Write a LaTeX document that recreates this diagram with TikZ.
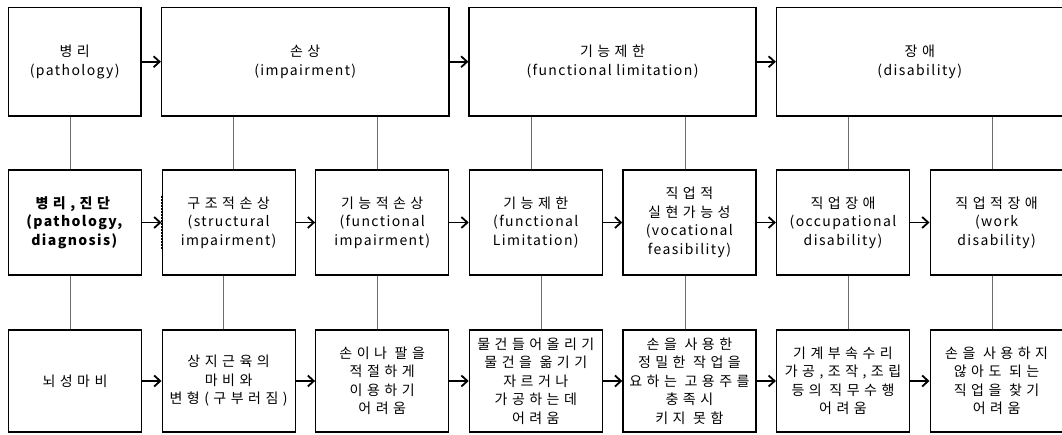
\documentclass[tikz,border=0pt]{standalone}
\usepackage{fontspec}
\setmainfont{Noto Sans CJK KR}[LetterSpace=10]
\newfontfamily\kofont{Noto Sans CJK KR}[LetterSpace=32]
\newcommand{\ko}[1]{{\kofont #1}}
\usetikzlibrary{arrows.meta}
\begin{document}
\begin{tikzpicture}[x=1pt,y=-1pt,
  box/.style={draw=black, line width=1.2pt, minimum width=133pt, inner sep=0pt, align=center, font=\fontsize{14}{18.5}\selectfont},
  toprow/.style={box, minimum height=108.5pt},
  midrow/.style={box, minimum height=105pt},
  botrow/.style={box, minimum height=102pt},
  flow/.style={line width=1.8pt, -{Straight Barb[length=6pt,width=11pt]}},
  link/.style={draw=gray!85!black, line width=1pt}]
\useasboundingbox (0,0) rectangle (1062,435);
% top row
\node[toprow, minimum width=132.5pt] (t1) at (74.75,61.75) {\ko{병리}\\(pathology)};
\node[toprow, minimum width=287.5pt] (t2) at (305.25,61.75) {\ko{손상}\\(impairment)};
\node[toprow, minimum width=287pt] (t3) at (612.5,61.75) {\ko{기능제한}\\(functional limitation)};
\node[toprow, minimum width=286.5pt] (t4) at (919.75,61.75) {\ko{장애}\\(disability)};
% middle row
\node[midrow] (m1) at (75,222.5) {\textbf{\ko{병리,진단}}\\\textbf{(pathology,}\\\textbf{diagnosis)}};
\node[midrow] (m2) at (228.6,222.5) {\ko{구조적손상}\\(structural\\impairment)};
\node[midrow] (m3) at (382.2,222.5) {\ko{기능적손상}\\(functional\\impairment)};
\node[midrow] (m4) at (535.8,222.5) {\ko{기능제한}\\(functional\\Limitation)};
\node[midrow] (m5) at (689.4,222.5) {\ko{직업적}\\\ko{실현가능성}\\(vocational\\feasibility)};
\node[midrow] (m6) at (843,222.5) {\ko{직업장애}\\(occupational\\disability)};
\node[midrow] (m7) at (996.6,222.5) {\ko{직업적장애}\\(work\\disability)};
% bottom row
\node[botrow] (b1) at (75,381) {\ko{뇌성마비}};
\node[botrow] (b2) at (228.6,381) {\ko{상지근육의}\\\ko{마비와}\\\ko{변형(구부러짐)}};
\node[botrow] (b3) at (382.2,381) {\ko{손이나 팔을}\\\ko{적절하게}\\\ko{이용하기}\\\ko{어려움}};
\node[botrow] (b4) at (535.8,381) {\ko{물건들어올리기}\\\ko{물건을 옮기기}\\\ko{자르거나}\\\ko{가공하는데}\\\ko{어려움}};
\node[botrow] (b5) at (689.4,381) {\ko{손을 사용한}\\\ko{정밀한 작업을}\\\ko{요하는 고용주를}\\\ko{충족시}\\\ko{키지 못함}};
\node[botrow] (b6) at (843,381) {\ko{기계부속수리}\\\ko{가공,조작,조립}\\\ko{등의 직무수행}\\\ko{어려움}};
\node[botrow] (b7) at (996.6,381) {\ko{손을 사용하지}\\\ko{않아도 되는}\\\ko{직업을 찾기}\\\ko{어려움}};
% flow arrows
\draw[flow] (t1) -- (t2);
\draw[flow] (t2) -- (t3);
\draw[flow] (t3) -- (t4);
\foreach \a/\b in {1/2,2/3,3/4,4/5,5/6,6/7}{
  \draw[flow] (m\a) -- (m\b);
  \draw[flow] (b\a) -- (b\b);
}
% vertical links top-middle
\draw[link] ([xshift=-4.7pt]m1.north) -- ([xshift=-4.7pt]m1.north |- t1.south);
\draw[link] ([xshift=4.4pt]m2.north) -- ([xshift=4.4pt]m2.north |- t2.south);
\draw[link] ([xshift=-5pt]m3.north) -- ([xshift=-5pt]m3.north |- t2.south);
\draw[link] ([xshift=-4.8pt]m4.north) -- ([xshift=-4.8pt]m4.north |- t3.south);
\draw[link] ([xshift=-4.4pt]m5.north) -- ([xshift=-4.4pt]m5.north |- t3.south);
\draw[link] ([xshift=5.6pt]m6.north) -- ([xshift=5.6pt]m6.north |- t4.south);
\draw[link] ([xshift=-4.6pt]m7.north) -- ([xshift=-4.6pt]m7.north |- t4.south);
% vertical links middle-bottom
\draw[link] ([xshift=-4.7pt]m1.south) -- ([xshift=-4.7pt]b1.north);
\draw[link] ([xshift=-5pt]m2.south) -- ([xshift=-5pt]b2.north);
\draw[link] ([xshift=-5pt]m3.south) -- ([xshift=-5pt]b3.north);
\draw[link] ([xshift=5.2pt]m4.south) -- ([xshift=5.2pt]b4.north);
\draw[link] ([xshift=-4.4pt]m5.south) -- ([xshift=-4.4pt]b5.north);
\draw[link] ([xshift=5.6pt]m6.south) -- ([xshift=5.6pt]b6.north);
\draw[link] ([xshift=-4.6pt]m7.south) -- ([xshift=-4.6pt]b7.north);
% dotted thick edge on structural impairment box
\draw[line width=2pt, densely dotted] ([yshift=-27pt]m2.west) -- ([yshift=27pt]m2.west);
\end{tikzpicture}
\end{document}
